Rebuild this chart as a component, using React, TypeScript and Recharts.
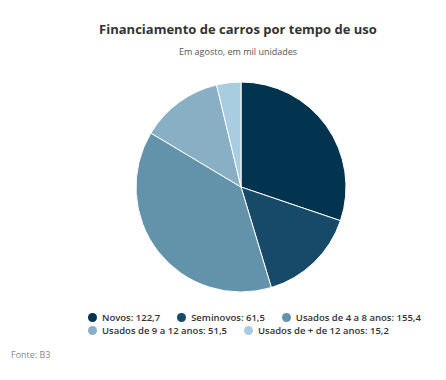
import { PieChart, Pie, Cell, Legend } from 'recharts';

const categories = ['Novos', 'Seminovos', 'Usados de 4 a 8 anos', 'Usados de 9 a 12 anos', 'Usados de + de 12 anos'];
const values = [122.7, 61.5, 155.4, 51.5, 15.2];
const colors = ['#02344f', '#174a68', '#6393aa', '#88afc4', '#a9cde0'];

const data = categories.map((name, i) => ({ name, value: values[i] }));

const fmt = (v: number) => v.toFixed(1).replace('.', ',');

function LegendBox() {
  return (
    <div
      style={{
        display: 'flex',
        flexWrap: 'wrap',
        width: 340,
        marginLeft: 88,
        columnGap: 17,
        fontSize: 9.5,
        fontWeight: 600,
        color: '#333',
        lineHeight: '13px',
      }}
    >
      {data.map((d, i) => (
        <div key={d.name} style={{ display: 'flex', alignItems: 'center' }}>
          <span
            style={{
              display: 'inline-block',
              width: 9,
              height: 9,
              borderRadius: '50%',
              background: colors[i],
              marginRight: 5,
            }}
          />
          {d.name}: {fmt(d.value)}
        </div>
      ))}
    </div>
  );
}

export default function App() {
  return (
    <div
      style={{
        position: 'absolute',
        left: 0,
        top: 0,
        width: 446,
        height: 380,
        background: '#fff',
        fontFamily: '"Open Sans", sans-serif',
      }}
    >
      <div
        style={{
          position: 'absolute',
          top: 20,
          left: 0,
          width: 476,
          textAlign: 'center',
          fontSize: 13,
          fontWeight: 700,
          color: '#333',
        }}
      >
        Financiamento de carros por tempo de uso
      </div>
      <div
        style={{
          position: 'absolute',
          top: 45,
          left: 0,
          width: 476,
          textAlign: 'center',
          fontSize: 9,
          color: '#555',
        }}
      >
        Em agosto, em mil unidades
      </div>
      <PieChart width={446} height={380} margin={{ top: 0, right: 0, bottom: 0, left: 0 }}>
        <Pie
          data={data}
          dataKey="value"
          nameKey="name"
          cx={241}
          cy={187}
          outerRadius={105}
          startAngle={90}
          endAngle={-270}
          stroke="#fff"
          strokeWidth={1}
          isAnimationActive={false}
        >
          {data.map((d, i) => (
            <Cell key={d.name} fill={colors[i]} />
          ))}
        </Pie>
        <Legend
          content={() => <LegendBox />}
          wrapperStyle={{ top: 311, left: 0, width: 446 }}
        />
      </PieChart>
      <div
        style={{
          position: 'absolute',
          top: 348,
          left: 11,
          fontSize: 9,
          color: '#888',
        }}
      >
        Fonte: B3
      </div>
    </div>
  );
}
